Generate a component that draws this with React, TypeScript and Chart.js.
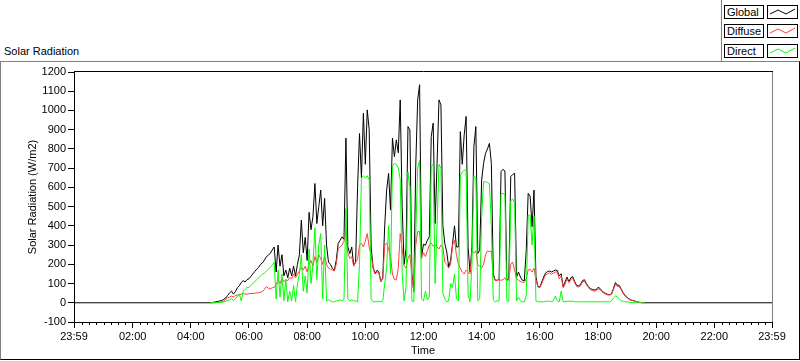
import React, { useEffect, useRef } from "react";
import { Chart, registerables } from "chart.js";

Chart.register(...registerables);

const FONT = "'Liberation Sans', Arial, sans-serif";

// Time axis in minutes after midnight; 23:59 of the previous day = -1
const DAY_START_MIN = -1;
const DAY_END_MIN = 1439;
const SAMPLE_START_MIN = 280; // 04:40, first daylight sample
const SAMPLE_STEP_MIN = 4;
const MINOR_TICK_MIN = 15;

const xTickMinutes = [-1, 120, 240, 360, 480, 600, 720, 840, 960, 1080, 1200, 1320, 1439];
const xTickLabels = ["23:59", "02:00", "04:00", "06:00", "08:00", "10:00", "12:00", "14:00", "16:00", "18:00", "20:00", "22:00", "23:59"];
const Y_MIN = -100;
const Y_MAX = 1200;
const Y_STEP = 100;

const globalValues = [
  0, 1, 3, 5, 7, 10, 12, 18, 25, 38,
  52, 60, 45, 58, 78, 88, 105, 115, 108, 120,
  125, 138, 150, 163, 175, 185, 200, 208, 222, 240,
  247, 258, 275, 290, 160, 300, 190, 250, 140, 170,
  130, 180, 140, 190, 140, 200, 250, 430, 260, 340,
  220, 470, 380, 450, 620, 412, 500, 586, 400, 543,
  300, 212, 200, 180, 169, 220, 308, 325, 343, 330,
  856, 290, 256, 290, 195, 212, 600, 880, 650, 986,
  720, 1003, 900, 290, 186, 151, 169, 160, 110, 130,
  400, 586, 673, 482, 856, 760, 847, 780, 1055, 500,
  200, 280, 916, 899, 151, 60, 708, 1055, 1134, 238,
  305, 299, 325, 343, 864, 934, 412, 725, 1055, 1029,
  400, 308, 264, 186, 221, 308, 400, 290, 290, 890,
  720, 873, 969, 290, 160, 290, 812, 916, 256, 273,
  638, 725, 777, 800, 829, 725, 150, 117, 117, 125,
  682, 694, 685, 117, 125, 656, 667, 673, 134, 160,
  134, 117, 115, 273, 569, 555, 395, 586, 134, 85,
  82, 108, 134, 155, 162, 165, 160, 165, 170, 168,
  140, 151, 85, 108, 134, 110, 130, 136, 110, 90,
  88, 95, 115, 120, 100, 85, 73, 70, 66, 68,
  80, 75, 62, 54, 48, 44, 42, 47, 75, 105,
  92, 90, 70, 52, 38, 28, 20, 14, 12, 9,
  5, 3, 1, 0, 0,
];

const diffuseValues = [
  0, 0, 0, 1, 2, 2, 5, 10, 18, 25,
  30, 35, 30, 38, 40, 42, 45, 48, 45, 45,
  47, 48, 48, 50, 52, 52, 55, 58, 70, 85,
  75, 72, 78, 80, 95, 115, 100, 125, 110, 120,
  115, 130, 125, 150, 130, 150, 165, 185, 170, 190,
  160, 200, 220, 190, 240, 210, 250, 230, 200, 240,
  200, 180, 175, 170, 165, 200, 280, 290, 300, 320,
  370, 260, 230, 240, 190, 210, 225, 300, 310, 290,
  320, 360, 290, 250, 180, 150, 160, 155, 110, 125,
  300, 310, 280, 240, 150, 120, 120, 180, 360, 280,
  190, 180, 230, 250, 140, 55, 300, 370, 370, 230,
  260, 240, 270, 300, 310, 295, 300, 290, 280, 300,
  290, 210, 200, 180, 200, 300, 325, 250, 200, 180,
  160, 150, 170, 160, 150, 270, 260, 270, 200, 190,
  180, 200, 250, 270, 265, 270, 140, 117, 115, 120,
  117, 120, 130, 115, 120, 200, 212, 170, 125, 117,
  110, 108, 105, 125, 170, 175, 160, 180, 120, 82,
  78, 100, 125, 145, 150, 155, 148, 155, 160, 160,
  125, 140, 78, 95, 125, 105, 120, 128, 103, 85,
  82, 88, 108, 113, 95, 80, 68, 65, 60, 63,
  72, 70, 58, 50, 45, 41, 40, 44, 68, 95,
  85, 84, 66, 48, 35, 26, 18, 13, 11, 8,
  5, 3, 1, 0, 0,
];

const directValues = [
  0, 0, 0, 1, 2, 2, 3, 5, 8, 12,
  15, 22, 12, 20, 35, 45, 10, 60, 70, 80,
  80, 90, 100, 110, 120, 130, 140, 150, 155, 165,
  175, 185, 195, 210, 20, 170, 30, 150, 10, 120,
  5, 60, 10, 90, 5, 100, 150, 250, 60, 140,
  50, 280, 100, 200, 390, 120, 300, 360, 20, 300,
  10, 15, 10, 5, 5, 10, 10, 15, 10, 20,
  490, 20, 10, 15, 10, 10, 5, 200, 650, 660,
  650, 660, 640, 20, 5, 5, 5, 8, 5, 10,
  100, 180, 400, 150, 710, 725, 720, 700, 640, 150,
  10, 80, 680, 600, 10, 5, 350, 700, 740, 20,
  10, 60, 15, 30, 710, 720, 100, 400, 720, 700,
  50, 20, 5, 10, 100, 80, 150, 20, 10, 660,
  680, 690, 690, 40, 5, 200, 660, 650, 10, 20,
  450, 630, 630, 625, 620, 400, 15, 5, 10, 10,
  565, 570, 560, 10, 8, 530, 540, 520, 10, 30,
  10, 5, 5, 40, 456, 455, 300, 450, 10, 5,
  5, 5, 5, 8, 8, 8, 5, 10, 35, 10,
  5, 60, 5, 5, 8, 8, 8, 8, 5, 5,
  5, 5, 5, 5, 5, 5, 5, 5, 5, 5,
  5, 5, 5, 5, 5, 5, 5, 10, 25, 35,
  30, 20, 10, 8, 5, 5, 3, 2, 1, 0,
  0, 0, 0, 0, 0,
];

const seriesLabels = ["Global", "Diffuse", "Direct"];
const seriesColors = ["#000000", "#ff3f3f", "#00ff00"];

function toPoints(values: number[]) {
  return values.map((v, i) => ({ x: SAMPLE_START_MIN + i * SAMPLE_STEP_MIN, y: v }));
}

const framePlugin = {
  id: "labviewFrame",
  afterDraw(chart: any) {
    const { ctx, chartArea: a, scales } = chart;
    const xs = scales.x;
    ctx.save();
    ctx.lineWidth = 1;
    ctx.strokeStyle = "#000";
    ctx.beginPath();
    ctx.moveTo(a.left, a.top - 0.5);
    ctx.lineTo(a.right + 1, a.top - 0.5);
    ctx.stroke();
    ctx.strokeStyle = "#808080";
    ctx.beginPath();
    ctx.moveTo(a.right + 0.5, a.top);
    ctx.lineTo(a.right + 0.5, a.bottom);
    ctx.stroke();
    ctx.strokeStyle = "#000";
    ctx.beginPath();
    for (let m = MINOR_TICK_MIN; m < DAY_END_MIN; m += MINOR_TICK_MIN) {
      if (m % 120 === 0) continue;
      const px = Math.round(xs.getPixelForValue(m)) + 0.5;
      ctx.moveTo(px, a.bottom);
      ctx.lineTo(px, a.bottom + 3);
    }
    ctx.stroke();
    ctx.restore();
  },
};

export default function App() {
  const canvasRef = useRef<HTMLCanvasElement | null>(null);

  useEffect(() => {
    const canvas = canvasRef.current;
    if (!canvas) return;
    Chart.defaults.font.family = FONT;
    Chart.defaults.font.size = 11;
    Chart.defaults.color = "#000";

    const globalData = [{ x: DAY_START_MIN, y: 0 }, ...toPoints(globalValues), { x: DAY_END_MIN, y: 0 }];
    const chart = new Chart(canvas, {
      type: "line",
      data: {
        datasets: [
          { label: seriesLabels[2], data: toPoints(directValues), borderColor: seriesColors[2], order: 1 },
          { label: seriesLabels[1], data: toPoints(diffuseValues), borderColor: seriesColors[1], order: 2 },
          { label: seriesLabels[0], data: globalData, borderColor: seriesColors[0], order: 3 },
        ].map((d) => ({ ...d, borderWidth: 1, pointRadius: 0, tension: 0, fill: false })),
      },
      options: {
        animation: false,
        responsive: false,
        events: [],
        layout: { padding: { left: 0, top: 72, right: 28, bottom: 0 } },
        plugins: { legend: { display: false }, tooltip: { enabled: false } },
        scales: {
          x: {
            type: "linear",
            min: DAY_START_MIN,
            max: DAY_END_MIN,
            afterBuildTicks: (scale: any) => {
              scale.ticks = xTickMinutes.map((v) => ({ value: v }));
            },
            afterFit: (scale: any) => {
              scale.height = 39;
            },
            ticks: {
              autoSkip: false,
              maxRotation: 0,
              padding: 2,
              font: { size: 11, family: FONT },
              color: "#000",
              callback: (_v: any, i: number) => xTickLabels[i],
            },
            grid: { drawOnChartArea: false, drawTicks: true, tickLength: 6, color: "#000" },
            border: { display: true, color: "#000", width: 1 },
            title: { display: true, text: "Time", color: "#000", font: { size: 11, family: FONT }, padding: { top: 0, bottom: 3 } },
          },
          y: {
            type: "linear",
            min: Y_MIN,
            max: Y_MAX,
            afterFit: (scale: any) => {
              scale.width = 74;
            },
            ticks: {
              stepSize: Y_STEP,
              padding: 2,
              font: { size: 11, family: FONT },
              color: "#000",
              callback: (v: any) => String(v),
            },
            grid: { drawOnChartArea: false, drawTicks: true, tickLength: 6, color: "#000" },
            border: { display: true, color: "#000", width: 1 },
            title: { display: true, text: "Solar Radiation (W/m2)", color: "#000", font: { size: 11, family: FONT }, padding: { top: 26, bottom: 0 } },
          },
        },
      },
      plugins: [framePlugin],
    });
    return () => chart.destroy();
  }, []);

  const legendTops = [5, 24, 44];
  const zig = "2,8 10,4 18,8 27,3";

  return (
    <div style={{ position: "absolute", left: 0, top: 0, width: 800, height: 361, background: "#fff", overflow: "hidden", fontFamily: FONT, color: "#000" }}>
      <div style={{ position: "absolute", left: 0, top: 61, width: 800, height: 299, boxSizing: "border-box", borderTop: "1px solid #808080", borderLeft: "1px solid #808080", borderRight: "1px solid #000", borderBottom: "1px solid #000" }} />
      <div style={{ position: "absolute", left: 721, top: 0, width: 1, height: 61, background: "#808080" }} />
      <div style={{ position: "absolute", left: 4, top: 45, fontSize: 11, lineHeight: "13px", whiteSpace: "nowrap" }}>Solar Radiation</div>
      {seriesLabels.map((lab, i) => (
        <React.Fragment key={lab}>
          <div style={{ position: "absolute", left: 724, top: legendTops[i], width: 40, height: 14, boxSizing: "border-box", border: "1px solid #000", fontSize: 11, lineHeight: "12px", paddingLeft: 2, whiteSpace: "nowrap" }}>{lab}</div>
          <div style={{ position: "absolute", left: 767, top: legendTops[i], width: 31, height: 14, boxSizing: "border-box", border: "1px solid #000" }}>
            <svg width={29} height={12} style={{ position: "absolute", left: 0, top: 0 }}>
              <polyline points={zig} fill="none" stroke={seriesColors[i]} strokeWidth={1} />
            </svg>
          </div>
        </React.Fragment>
      ))}
      <canvas ref={canvasRef} width={800} height={361} style={{ position: "absolute", left: 0, top: 0 }} />
    </div>
  );
}
